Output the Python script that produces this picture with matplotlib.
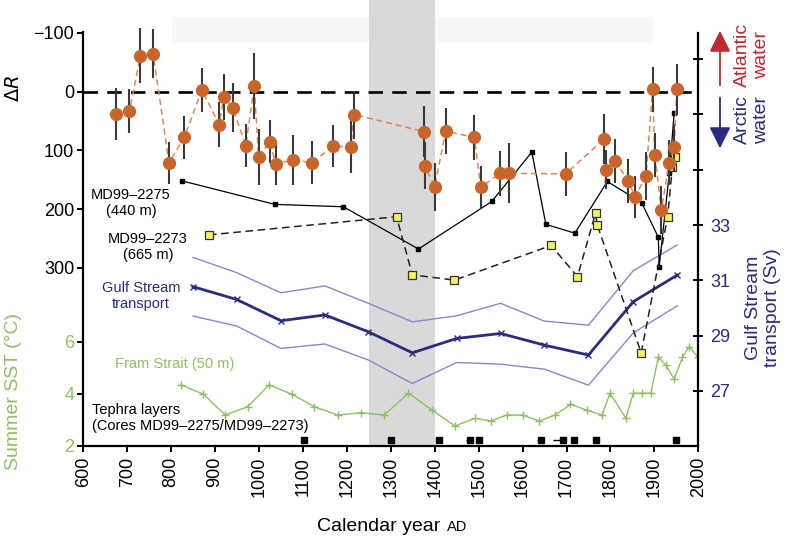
import numpy as np
import matplotlib.pyplot as plt
from matplotlib.patches import FancyArrowPatch

plt.rcParams['font.family'] = ['Liberation Sans', 'DejaVu Sans']

# Delta R values with error bars
dr_year = [674, 705, 730, 759, 795, 830, 870, 909, 920, 940, 970, 989, 999, 1025,
           1038, 1078, 1120, 1169, 1209, 1216, 1376, 1377, 1400, 1425, 1490, 1505,
           1549, 1570, 1698, 1785, 1790, 1811, 1840, 1856, 1881, 1896, 1901, 1916,
           1934, 1945, 1951]
dr_val = [38, 33, -61, -65, 121, 78, -3, 56, 9, 27, 92, -10, 111, 85,
          123, 116, 121, 93, 94, 39, 68, 126, 162, 67, 78, 163,
          139, 139, 140, 81, 133, 118, 152, 179, 143, -4, 108, 201,
          121, 95, -4]
dr_err = [45, 37, 47, 42, 36, 37, 37, 39, 39, 41, 37, 56, 48, 37,
          36, 43, 37, 36, 44, 41, 43, 40, 41, 39, 38, 36,
          38, 51, 38, 43, 33, 38, 37, 36, 41, 38, 37, 41,
          38, 40, 44]

# core MD99-2275 (440 m)
c2275_year = [825, 1036, 1192, 1363, 1530, 1621, 1653, 1719, 1793, 1871, 1909, 1911, 1934, 1945]
c2275_dr = [152, 192, 196, 268, 187, 103, 226, 241, 153, 189, 248, 298, 139, 37]

# core MD99-2273 (665 m)
c2273_year = [886, 1313, 1349, 1445, 1665, 1725, 1766, 1770, 1870, 1930, 1941, 1948]
c2273_dr = [244, 213, 312, 321, 262, 315, 207, 227, 445, 214, 128, 111]

# Gulf Stream transport (Sv)
gs_year = [850, 949, 1050, 1150, 1249, 1349, 1450, 1550, 1649, 1750, 1852, 1952]
gs_mid = [30.77, 30.31, 29.54, 29.75, 29.14, 28.38, 28.90, 29.08, 28.66, 28.30, 30.23, 31.19]
gs_hi = [31.83, 31.28, 30.55, 30.80, 30.17, 29.50, 29.72, 30.17, 29.53, 29.38, 31.35, 32.28]
gs_lo = [29.71, 29.35, 28.54, 28.70, 28.12, 27.27, 28.03, 27.97, 27.79, 27.21, 29.10, 30.08]

# Fram Strait summer SST (50 m)
fram_year = [822, 873, 923, 974, 1023, 1074, 1126, 1179, 1232, 1285, 1340, 1394, 1446,
             1492, 1528, 1564, 1600, 1638, 1674, 1709, 1746, 1781, 1799, 1835, 1852,
             1872, 1892, 1909, 1926, 1945, 1964, 1979, 2000]
fram_sst = [4.35, 4.0, 3.19, 3.51, 4.35, 4.0, 3.51, 3.19, 3.28, 3.19, 4.03, 3.38, 2.77,
            3.07, 2.96, 3.19, 3.19, 2.96, 3.19, 3.60, 3.38, 3.19, 4.03, 3.07, 4.03,
            4.03, 4.03, 5.41, 5.12, 4.57, 5.41, 5.82, 5.41]

# tephra layers
teph_year = [1103, 1300, 1410, 1480, 1501, 1641, 1693, 1718, 1766, 1949]
teph_err_lo = [0, 0, 0, 8, 0, 8, 24, 6, 0, 0]
teph_err_hi = [0, 0, 0, 8, 0, 8, 5, 6, 0, 0]
teph_level = 2.23

orange = '#c9642b'
navy = '#2b2b80'
light = '#8787cf'
green = '#8dc063'
red = '#c1272d'

W, H = 788, 537
fig = plt.figure(figsize=(W / 100, H / 100), dpi=100)

def fx(x):
    return x / W

def fy(y):
    return 1 - y / H

ax = fig.add_axes([fx(83.3), fy(446), (698.3 - 83.3) / W, 446 / H])
ax_gs = ax.twinx()
ax_dr = ax.twinx()

ax.set_xlim(600, 2000)
ax.set_ylim(2, 19.15)
ax_gs.set_ylim(25.01, 41.14)
ax_dr.set_ylim(603.6, -156.2)

# background bands
ax.axvspan(1250, 1400, color='#d9d9d9', lw=0, zorder=0)
ax.fill_between([802, 1250], 17.5, 18.5, color='#f8f8f8', lw=0, zorder=0)
ax.fill_between([1400, 1896], 17.5, 18.5, color='#f8f8f8', lw=0, zorder=0)

# Fram Strait + tephra
ax.plot(fram_year, fram_sst, color=green, lw=1.0, marker='+', ms=6, mew=1.0)
ax.errorbar(teph_year, [teph_level] * len(teph_year),
            xerr=[teph_err_lo, teph_err_hi], fmt='s', color='black',
            ms=4, elinewidth=1.0, capsize=0)

# Gulf Stream
ax_gs.plot(gs_year, gs_hi, color=light, lw=1.0)
ax_gs.plot(gs_year, gs_lo, color=light, lw=1.0)
ax_gs.plot(gs_year, gs_mid, color=navy, lw=2.0, marker='x', ms=5, mew=1.0)

# delta R
ax_dr.axhline(0, color='black', lw=1.9, dashes=(5.5, 3.5), zorder=1)
ax_dr.plot(c2275_year, c2275_dr, color='black', lw=0.9, marker='s', ms=3)
ax_dr.plot(c2273_year, c2273_dr, color='#222222', lw=1.1, dashes=(5, 3),
           marker='s', ms=5.5, mfc='#f3f35c', mec='#333333', mew=0.9)
ax_dr.plot(dr_year, dr_val, color='#d98a55', lw=1.1, dashes=(4, 2.5), zorder=3)
ax_dr.errorbar(dr_year, dr_val, yerr=dr_err, fmt='none', ecolor='#3a3a3a',
               elinewidth=1.5, capsize=0, zorder=3)
ax_dr.plot(dr_year, dr_val, 'o', color=orange, ms=9.5, mec='none', zorder=4)

# spines and ticks
for a in (ax, ax_gs, ax_dr):
    for s in a.spines.values():
        s.set_visible(False)
    a.set_facecolor('none')

ax.spines['bottom'].set_visible(True)
ax.spines['bottom'].set_linewidth(1.6)
ax.spines['left'].set_visible(True)
ax.spines['left'].set_linewidth(1.6)
ax.spines['left'].set_bounds(2, 19.15 - 32 / 26)
ax_gs.spines['right'].set_visible(True)
ax_gs.spines['right'].set_linewidth(1.6)
ax_gs.spines['right'].set_bounds(25.01, 39.95)

ax.set_xticks(np.arange(600, 2001, 100))
ax.tick_params(axis='x', direction='out', length=4, width=1.4, labelsize=13,
               labelrotation=90, pad=4)
ax.set_yticks([2, 4, 6])
ax.tick_params(axis='y', direction='out', length=4.5, width=1.4, labelsize=13,
               labelcolor=green, pad=2)

ax_dr.yaxis.tick_left()
ax_dr.set_yticks([-100, 0, 100, 200, 300])
ax_dr.tick_params(axis='y', direction='out', length=4.5, width=1.4, labelsize=13, pad=2)

ax_gs.set_yticks([27, 29, 31, 33, 35, 37, 39])
ax_gs.set_yticklabels(['27', '29', '31', '33', '', '', ''])
ax_gs.tick_params(axis='y', direction='inout', length=7, width=1.4, labelsize=13,
                  labelcolor=navy, pad=5)

# axis labels
fig.text(fx(14), fy(88), r'$\Delta R$', rotation=90, ha='center', va='center', fontsize=14)
fig.text(fx(14), fy(392), 'Summer SST (°C)', rotation=90, ha='center', va='center',
         fontsize=14, color=green)
fig.text(fx(763), fy(308), 'Gulf Stream\ntransport (Sv)', rotation=90, ha='center',
         va='center', fontsize=14, color=navy)
fig.text(fx(317), fy(531), 'Calendar year', ha='left', va='baseline', fontsize=14)
fig.text(fx(447), fy(531), 'AD', ha='left', va='baseline', fontsize=10.5)

# water mass arrows
fig.text(fx(752), fy(55), 'Atlantic\nwater', rotation=90, ha='center', va='center',
         fontsize=14, color=red)
fig.text(fx(752), fy(120), 'Arctic\nwater', rotation=90, ha='center', va='center',
         fontsize=14, color=navy)
fig.add_artist(FancyArrowPatch(
    (fx(720), fy(88)), (fx(720), fy(28)), transform=fig.transFigure,
    arrowstyle='-|>,head_length=1.0,head_width=0.5', mutation_scale=13,
    color=red, lw=1.3))
fig.add_artist(FancyArrowPatch(
    (fx(720), fy(95)), (fx(720), fy(151)), transform=fig.transFigure,
    arrowstyle='-|>,head_length=1.0,head_width=0.5', mutation_scale=13,
    color=navy, lw=1.3))

# series annotations
fig.text(fx(131), fy(203), 'MD99\u20132275\n(440 m)', ha='center', va='center', fontsize=10.5)
fig.text(fx(148), fy(247), 'MD99\u20132273\n(665 m)', ha='center', va='center', fontsize=10.5)
fig.text(fx(141), fy(296), 'Gulf Stream\ntransport', ha='center', va='center',
         fontsize=10.5, color=navy)
fig.text(fx(174.5), fy(364), 'Fram Strait (50 m)', ha='center', va='center',
         fontsize=10.5, color=green)
fig.text(fx(92.3), fy(418), 'Tephra layers\n(Cores MD99\u20132275/MD99\u20132273)',
         ha='left', va='center', fontsize=10.5)

fig.savefig('out.png', dpi=100)
